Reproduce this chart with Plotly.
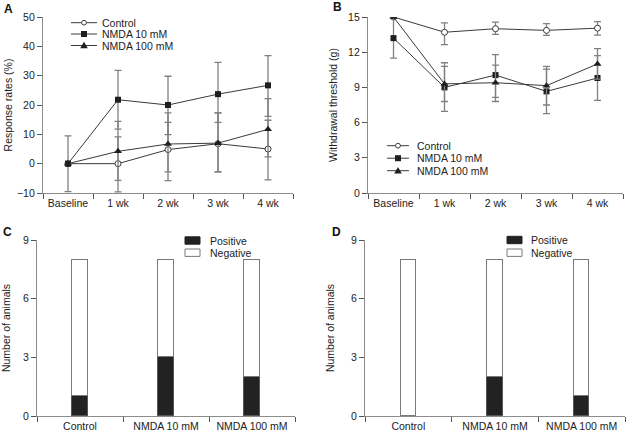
import plotly.graph_objects as go

# ---------------- data ----------------
weeks = ["Baseline", "1 wk", "2 wk", "3 wk", "4 wk"]

# Panel A: response rates (%)
ctrl_A = [0, 0, 4.8, 6.8, 5.0]
ctrl_A_up = [9.5, 9.1, 9.3, 10.5, 9.8]
ctrl_A_dn = [9.5, 9.6, 10.6, 9.6, 10.5]
n10_A = [0, 21.8, 20.0, 23.7, 26.7]
n10_A_up = [0, 10.0, 9.8, 10.8, 10.1]
n10_A_dn = [0, 10.0, 10.1, 9.6, 10.6]
n100_A = [0, 4.2, 6.7, 7.0, 11.7]
n100_A_up = [0, 10.2, 10.6, 10.3, 10.5]
n100_A_dn = [0, 9.9, 9.5, 9.8, 9.4]

# Panel B: withdrawal threshold (g)
ctrl_B = [15.0, 13.7, 14.0, 13.86, 14.05]
ctrl_B_up = [0, 0.8, 0.57, 0.57, 0.55]
ctrl_B_dn = [0, 1.05, 0.48, 0.42, 0.6]
n10_B = [13.2, 9.0, 10.05, 8.66, 9.8]
n10_B_up = [1.7, 2.1, 1.75, 1.9, 1.9]
n10_B_dn = [1.7, 2.05, 1.9, 1.9, 1.9]
n100_B = [15.0, 9.3, 9.4, 9.15, 11.0]
n100_B_up = [0, 1.5, 1.5, 1.65, 1.3]
n100_B_dn = [0, 1.5, 1.6, 1.65, 1.3]

# Panels C and D: number of animals
groups = ["Control", "NMDA 10 mM", "NMDA 100 mM"]
pos_C = [1, 3, 2]
neg_C = [7, 5, 6]
pos_D = [0, 2, 1]
neg_D = [8, 6, 7]

series_names = ["Control", "NMDA 10 mM", "NMDA 100 mM"]
bar_names = ["Positive", "Negative"]

# ---------------- styling ----------------
W, H = 627, 434
FONT = "Liberation Sans, Arial, sans-serif"
FS = 10.5
TXT = "#222222"
AXC = "#8c8c8c"
LINEC = "#3a3a3a"
ERRC = "#808080"


def fx(x):
    return x / W


def fy(y):
    return 1 - y / H


fig = go.Figure()

markers = [
    dict(symbol="circle", size=6, color="white", line=dict(color=LINEC, width=1)),
    dict(symbol="square", size=6, color="#1e1e1e", line=dict(color="#1e1e1e", width=0)),
    dict(symbol="triangle-up", size=7, color="#1e1e1e", line=dict(color="#1e1e1e", width=0)),
]


def add_lines(vals, ups, dns, xa, ya):
    for i in range(3):
        fig.add_trace(go.Scatter(
            x=weeks, y=vals[i], mode="lines+markers", name=series_names[i],
            showlegend=False, xaxis=xa, yaxis=ya,
            line=dict(color=LINEC, width=1), marker=markers[i],
            error_y=dict(type="data", symmetric=False, array=ups[i], arrayminus=dns[i],
                         color=ERRC, thickness=1.3, width=3.5),
            cliponaxis=True,
        ))


add_lines([ctrl_A, n10_A, n100_A], [ctrl_A_up, n10_A_up, n100_A_up],
          [ctrl_A_dn, n10_A_dn, n100_A_dn], "x", "y")
add_lines([ctrl_B, n10_B, n100_B], [ctrl_B_up, n10_B_up, n100_B_up],
          [ctrl_B_dn, n10_B_dn, n100_B_dn], "x2", "y2")


def add_bars(pos, neg, xa, ya):
    fig.add_trace(go.Bar(x=groups, y=pos, name=bar_names[0], showlegend=False,
                         xaxis=xa, yaxis=ya, width=0.18,
                         marker=dict(color="#222222", line=dict(color="#555555", width=1))))
    fig.add_trace(go.Bar(x=groups, y=neg, name=bar_names[1], showlegend=False,
                         xaxis=xa, yaxis=ya, width=0.18,
                         marker=dict(color="white", line=dict(color="#7a7a7a", width=1.3))))


add_bars(pos_C, neg_C, "x3", "y3")
add_bars(pos_D, neg_D, "x4", "y4")

# ---------------- axes ----------------
common_x = dict(type="category", showgrid=False, zeroline=False,
                showline=True, linecolor=AXC, linewidth=1.2, ticks="outside",
                tickson="boundaries", ticklen=5, tickcolor="#555555", tickwidth=1,
                automargin=False, tickfont=dict(family=FONT, size=FS, color=TXT))
common_y = dict(showgrid=False, zeroline=False, showline=True, linecolor=AXC,
                linewidth=1.2, ticks="outside", ticklen=5, tickcolor="#555555",
                tickwidth=1, automargin=False,
                tickfont=dict(family=FONT, size=FS, color=TXT),
                title_font=dict(family=FONT, size=FS, color=TXT))

dom = {
    "A": ([fx(43), fx(293)], [fy(193), fy(17)]),
    "B": ([fx(368), fx(623)], [fy(193), fy(17)]),
    "C": ([fx(37), fx(295)], [fy(416), fy(240)]),
    "D": ([fx(365), fx(625)], [fy(416), fy(240)]),
}

fig.update_layout(
    xaxis=dict(common_x, domain=dom["A"][0], anchor="y", range=[-0.5, 4.5]),
    yaxis=dict(common_y, domain=dom["A"][1], anchor="x", range=[-10, 50], dtick=10,
               title=dict(text="Response rates (%)")),
    xaxis2=dict(common_x, domain=dom["B"][0], anchor="y2", range=[-0.5, 4.5]),
    yaxis2=dict(common_y, domain=dom["B"][1], anchor="x2", range=[0, 15], dtick=3,
                title=dict(text="Withdrawal threshold (g)")),
    xaxis3=dict(common_x, domain=dom["C"][0], anchor="y3", range=[-0.5, 2.5]),
    yaxis3=dict(common_y, domain=dom["C"][1], anchor="x3", range=[0, 9], dtick=3,
                title=dict(text="Number of animals")),
    xaxis4=dict(common_x, domain=dom["D"][0], anchor="y4", range=[-0.5, 2.5]),
    yaxis4=dict(common_y, domain=dom["D"][1], anchor="x4", range=[0, 9], dtick=3,
                title=dict(text="Number of animals")),
)

# ---------------- manual legends ----------------
shapes = []
annots = []


def legend_lines(x0, x1, tx, rows):
    cx = (x0 + x1) / 2
    for i, yy in enumerate(rows):
        shapes.append(dict(type="line", xref="paper", yref="paper",
                           x0=fx(x0), x1=fx(x1), y0=fy(yy), y1=fy(yy),
                           line=dict(color=LINEC, width=1)))
        if i == 0:
            r = 2.4
            shapes.append(dict(type="circle", xref="paper", yref="paper",
                               x0=fx(cx - r), x1=fx(cx + r), y0=fy(yy + r), y1=fy(yy - r),
                               fillcolor="white", line=dict(color=LINEC, width=1)))
        elif i == 1:
            r = 3
            shapes.append(dict(type="rect", xref="paper", yref="paper",
                               x0=fx(cx - r), x1=fx(cx + r), y0=fy(yy + r), y1=fy(yy - r),
                               fillcolor="#1e1e1e", line=dict(width=0)))
        else:
            p = "M{},{} L{},{} L{},{} Z".format(
                fx(cx), fy(yy - 3.8), fx(cx - 3.8), fy(yy + 2.8), fx(cx + 3.8), fy(yy + 2.8))
            shapes.append(dict(type="path", xref="paper", yref="paper", path=p,
                               fillcolor="#1e1e1e", line=dict(width=0)))
        annots.append(dict(xref="paper", yref="paper", x=fx(tx), y=fy(yy),
                           xanchor="left", yanchor="middle", showarrow=False,
                           text=series_names[i],
                           font=dict(family=FONT, size=FS, color=TXT)))


legend_lines(71, 97, 100, [22.7, 34.0, 45.5])
legend_lines(387, 409, 415, [145.7, 158.2, 170.7])


def legend_bars(x0, tx, rows):
    fills = ["#222222", "white"]
    lines = ["#222222", "#7a7a7a"]
    for i, yy in enumerate(rows):
        shapes.append(dict(type="rect", xref="paper", yref="paper",
                           x0=fx(x0), x1=fx(x0 + 15), y0=fy(yy + 3.7), y1=fy(yy - 3.7),
                           fillcolor=fills[i], line=dict(color=lines[i], width=1)))
        annots.append(dict(xref="paper", yref="paper", x=fx(tx), y=fy(yy),
                           xanchor="left", yanchor="middle", showarrow=False,
                           text=bar_names[i],
                           font=dict(family=FONT, size=FS, color=TXT)))


legend_bars(185, 208, [240.5, 252.7])
legend_bars(507, 529, [240.0, 252.7])

# panel letters
for letter, (x, y) in zip("ABCD", [(8, 8.5), (337, 7), (7, 231.5), (336, 231.5)]):
    annots.append(dict(xref="paper", yref="paper", x=fx(x), y=fy(y),
                       xanchor="center", yanchor="middle", showarrow=False,
                       text="<b>" + letter + "</b>",
                       font=dict(family=FONT, size=12, color="#111111")))

fig.update_layout(
    width=W, height=H, template="none",
    margin=dict(l=0, r=0, t=0, b=0),
    paper_bgcolor="white", plot_bgcolor="white",
    barmode="stack", bargap=0.0,
    showlegend=False,
    shapes=shapes, annotations=annots,
    font=dict(family=FONT, size=FS, color=TXT),
)

fig.write_html(
    "out.html",
    config={"displayModeBar": False},
    post_script="document.body.style.margin='0';document.body.style.padding='0';"
                "document.body.style.overflow='hidden';",
)
